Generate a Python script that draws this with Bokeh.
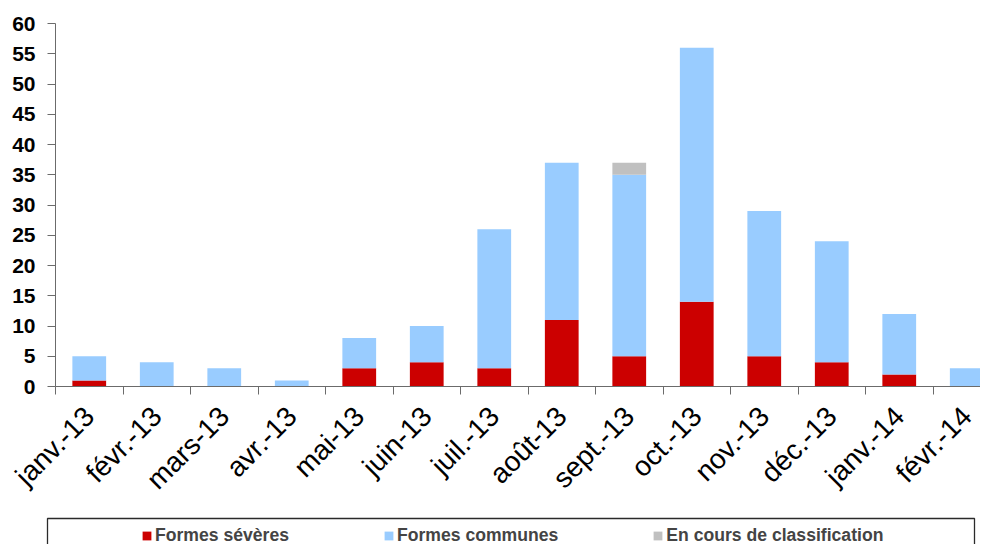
import math
from bokeh.plotting import figure
from bokeh.layouts import column, row
from bokeh.models import (ColumnDataSource, Range1d, FixedTicker, Legend, LegendItem)
from bokeh.embed import file_html
from bokeh.resources import INLINE

months = ["janv.-13", "févr.-13", "mars-13", "avr.-13", "mai-13", "juin-13", "juil.-13",
          "août-13", "sept.-13", "oct.-13", "nov.-13", "déc.-13", "janv.-14", "févr.-14"]
severes = [1, 0, 0, 0, 3, 4, 3, 11, 5, 14, 5, 4, 2, 0]
communes = [4, 4, 3, 1, 5, 6, 23, 26, 30, 42, 24, 20, 10, 3]
classif = [0, 0, 0, 0, 0, 0, 0, 0, 2, 0, 0, 0, 0, 0]
series_names = ["Formes sévères", "Formes communes", "En cours de classification"]
colors = ["#CC0000", "#99CCFF", "#C0C0C0"]
y_ticks = list(range(0, 61, 5))

W = 980
xpos = list(range(len(months)))
src = ColumnDataSource(dict(x=xpos, s=severes, c=communes, g=classif))

frame_left = 55
x_end = -0.5 + (W - frame_left) / 67.5

p = figure(width=W, height=510, output_backend="svg", toolbar_location=None,
           x_range=Range1d(-0.5, x_end), y_range=Range1d(0, 60),
           min_border_left=frame_left, min_border_right=0, min_border_top=23,
           min_border_bottom=124)
p.outline_line_color = None
p.xgrid.grid_line_color = None
p.ygrid.grid_line_color = None

rs = p.vbar_stack(["s", "c", "g"], x="x", width=0.5, source=src, color=colors,
                  line_color=None)

axis_col = "#6b6b6b"
p.yaxis.ticker = FixedTicker(ticks=y_ticks)
p.yaxis.axis_line_color = axis_col
p.yaxis.major_tick_line_color = axis_col
p.yaxis.major_tick_out = 8
p.yaxis.major_tick_in = 0
p.yaxis.minor_tick_line_color = None
p.yaxis.major_label_text_font = "Liberation Sans"
p.yaxis.major_label_text_font_style = "bold"
p.yaxis.major_label_text_font_size = "21px"
p.yaxis.major_label_text_color = "black"
p.yaxis.major_label_standoff = 12

p.xaxis.ticker = FixedTicker(ticks=xpos, minor_ticks=[k + 0.5 for k in range(-1, len(months))])
p.xaxis.major_label_overrides = {i: m for i, m in enumerate(months)}
p.xaxis.axis_line_color = axis_col
p.xaxis.major_tick_line_color = None
p.xaxis.minor_tick_line_color = axis_col
p.xaxis.minor_tick_out = 8
p.xaxis.minor_tick_in = 0
p.xaxis.major_label_orientation = math.pi / 4
p.xaxis.major_label_text_font = "Liberation Sans"
p.xaxis.major_label_text_font_size = "28px"
p.xaxis.major_label_text_color = "black"
p.xaxis.major_label_standoff = 17

# legend strip below the chart
lg = figure(width=W, height=34, output_backend="svg", toolbar_location=None,
            x_range=Range1d(0, W), y_range=Range1d(0, 34),
            x_axis_location=None, y_axis_location=None,
            min_border_left=0, min_border_right=0, min_border_top=0, min_border_bottom=0)
lg.grid.visible = False
lg.outline_line_color = None
lg.quad(left=[47], right=[974], top=[26], bottom=[-20], fill_color=None,
        line_color="#2a2a2a", line_width=1.3)
nan = float("nan")
dummies = [lg.quad(left=[nan], right=[nan], top=[nan], bottom=[nan], fill_color=c,
                   line_color=None) for c in colors]
items = [LegendItem(label=n, renderers=[r]) for n, r in zip(series_names, dummies)]
legend = Legend(items=items, orientation="horizontal", location=(141, -2),
                border_line_color=None, background_fill_alpha=0,
                label_text_font="Liberation Sans", label_text_font_style="bold",
                label_text_font_size="17.6px", glyph_width=11, glyph_height=11,
                label_standoff=3, spacing=94, padding=0, margin=0, label_height=20)
lg.add_layout(legend, "center")

layout = column(p, row(lg), spacing=0)
open("out.html", "w").write(file_html(layout, INLINE))
